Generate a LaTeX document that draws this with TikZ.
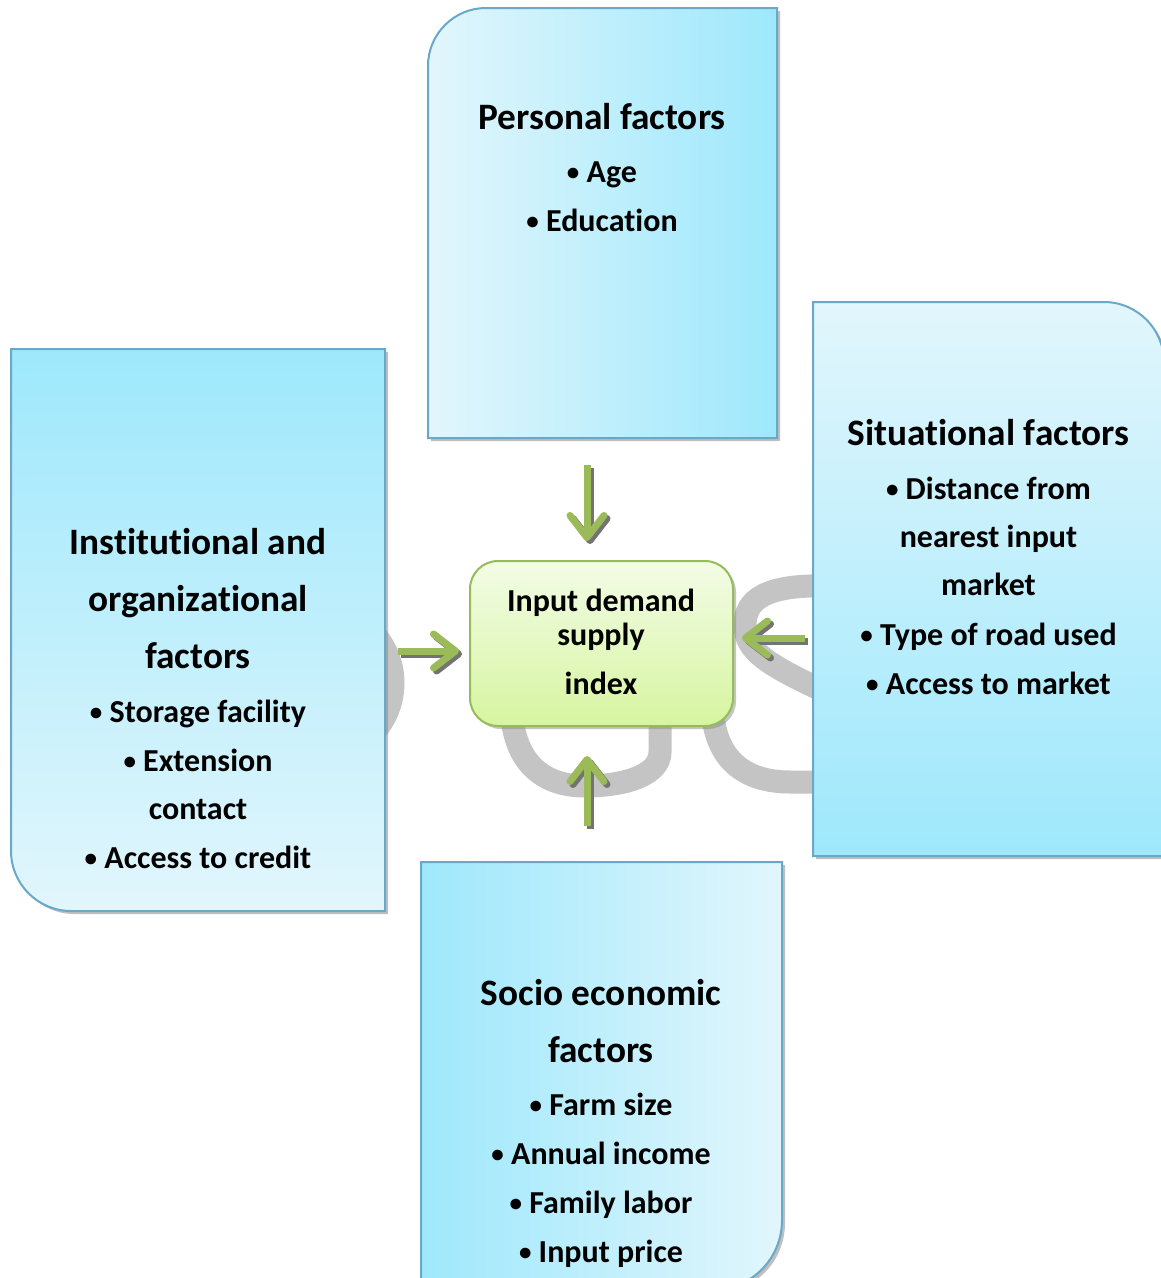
\documentclass[tikz,border=0pt]{standalone}
\usepackage{fontspec}
\setmainfont{Carlito}[Ligatures=NoCommon]
\usetikzlibrary{arrows.meta}
\definecolor{cyanL}{RGB}{226,246,252}
\definecolor{cyanD}{RGB}{158,232,252}
\definecolor{bxline}{RGB}{105,168,198}
\definecolor{grnL}{RGB}{243,252,230}
\definecolor{grnD}{RGB}{214,245,160}
\definecolor{grnline}{RGB}{150,188,90}
\definecolor{agreen}{RGB}{155,187,89}
\definecolor{wmark}{RGB}{196,196,196}
\newcommand{\bul}{{\fontsize{25}{25}\selectfont\raisebox{1.5pt}{\textbullet}}\ }
\tikzset{
  bx/.style={draw=bxline, line width=2pt,
    preaction={fill=black!45, opacity=.55, transform canvas={shift={(3pt,-3pt)}}}},
  ttl/.style={font=\fontsize{37.3}{37.3}\selectfont\bfseries, inner sep=0pt, anchor=base},
  itm/.style={font=\fontsize{32}{32}\selectfont\bfseries, inner sep=0pt, anchor=base},
  garrow/.style={draw=agreen, line width=7pt,
    -{Straight Barb[length=22pt,width=34pt,round]}},
  sharrow/.style={draw=black!55, line width=7pt,
    -{Straight Barb[length=22pt,width=34pt,round]},
    transform canvas={shift={(3pt,-3pt)}}},
  wm/.style={draw=wmark, line width=23pt}
}
\begin{document}
\begin{tikzpicture}[x=1pt,y=-1pt]
\useasboundingbox (0,0) rectangle (1161,1278);
\clip (0,0) rectangle (1161,1278);
\fill[white] (0,0) rectangle (1161,1278);

% watermark
\draw[wm] (320,683) ++(-40:73) arc[start angle=-40, end angle=40, radius=73];
\draw[wm] (511,700) .. controls (511,765) and (545,786) .. (585,786)
   .. controls (625,786) and (660,775) .. (660,752) -- (660,700);
\draw[wm] (830,586) .. controls (765,584) and (745,600) .. (745,625)
   .. controls (745,652) and (770,666) .. (830,694);
\draw[wm] (712,700) .. controls (712,760) and (745,782) .. (790,782) -- (830,782);

% Personal factors box
\path[bx, left color=cyanL, right color=cyanD]
  (428,438) -- (428,66) .. controls (428,34) and (454,8) .. (486,8)
  -- (777,8) -- (777,438) -- cycle;
% Institutional box
\path[bx, top color=cyanD, bottom color=cyanL]
  (11,349) -- (385,349) -- (385,911) -- (71,911)
  .. controls (38,911) and (11,884) .. (11,851) -- cycle;
% Situational box
\path[bx, top color=cyanL, bottom color=cyanD]
  (813,856) -- (813,302) -- (1104,302)
  .. controls (1137,302) and (1164,329) .. (1164,362) -- (1164,856) -- cycle;
% Socio economic box
\path[bx, left color=cyanD, right color=cyanL]
  (421,862) -- (782,862) -- (782,1220)
  .. controls (782,1259) and (751,1290) .. (712,1290) -- (421,1290) -- cycle;

% centre
\node[draw=grnline, line width=2pt, rounded corners=28pt,
  top color=grnL, bottom color=grnD,
  minimum width=263pt, minimum height=165pt,
  preaction={fill=black!45, opacity=.5, transform canvas={shift={(3pt,-3pt)}}}]
  (c) at (601.5,643.5) {};

% arrows
\coordinate (tA) at (587,465); \coordinate (tB) at (587,541);
\coordinate (bA) at (587,826); \coordinate (bB) at (587,756);
\coordinate (lA) at (398,651); \coordinate (lB) at (459,651);
\coordinate (rA) at (805,638); \coordinate (rB) at (742,638);
\foreach \a/\b in {tA/tB,bA/bB,lA/lB,rA/rB}{
  \draw[sharrow] (\a) -- (\b);
  \draw[garrow] (\a) -- (\b);
}

% texts: centre
\node[itm] (c1) at (601,611) {Input demand};
\node[itm] (c2) at (601,645) {supply};
\node[itm] (c3) at (601,694) {index};

% Personal
\node[ttl] (p0) at (602,129.5) {Personal factors};
\node[itm] (p1) at (602,182) {\bul Age};
\node[itm] (p2) at (602,231) {\bul Education};

% Institutional
\node[ttl] (i0) at (198,554.5) {Institutional and};
\node[ttl] (i1) at (198,611.5) {organizational};
\node[ttl] (i2) at (198,668.5) {factors};
\node[itm] (i3) at (198,722) {\bul Storage facility};
\node[itm] (i4) at (198,771) {\bul Extension};
\node[itm] (i5) at (198,819) {contact};
\node[itm] (i6) at (198,868) {\bul Access to credit};

% Situational
\node[ttl] (s0) at (988.5,445.5) {Situational factors};
\node[itm] (s1) at (988.5,499) {\bul Distance from};
\node[itm] (s2) at (988.5,547) {nearest input};
\node[itm] (s3) at (988.5,595) {market};
\node[itm] (s4) at (988.5,645) {\bul Type of road used};
\node[itm] (s5) at (988.5,694) {\bul Access to market};

% Socio economic
\node[ttl] (e0) at (601,1005.5) {Socio economic};
\node[ttl] (e1) at (601,1062.5) {factors};
\node[itm] (e2) at (601,1115) {\bul Farm size};
\node[itm] (e3) at (601,1164) {\bul Annual income};
\node[itm] (e4) at (601,1213) {\bul Family labor};
\node[itm] (e5) at (601,1262) {\bul Input price};
\end{tikzpicture}
\end{document}
